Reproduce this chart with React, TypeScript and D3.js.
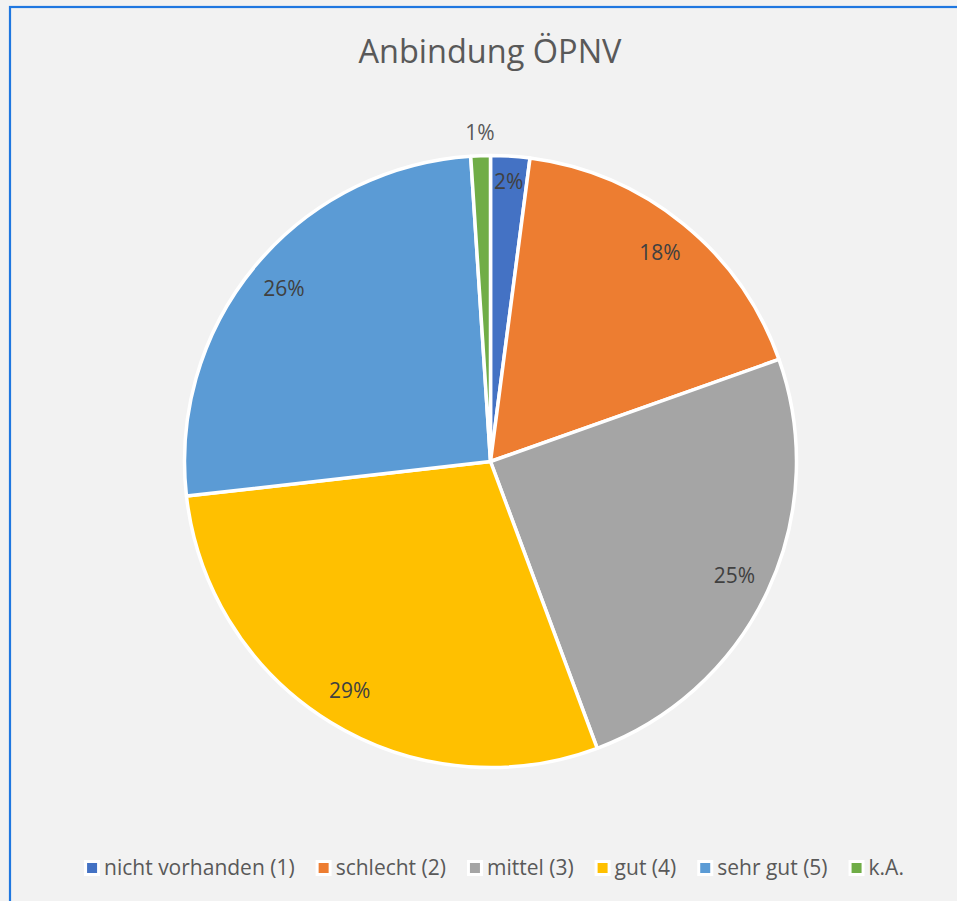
import { useRef, useEffect } from "react";
import * as d3 from "d3";

const title = "Anbindung ÖPNV";
const categories = ["nicht vorhanden (1)", "schlecht (2)", "mittel (3)", "gut (4)", "sehr gut (5)", "k.A."];
const counts = [2, 17, 24, 28, 25, 1];
const colors = ["#4472C4", "#ED7D31", "#A5A5A5", "#FFC000", "#5B9BD5", "#70AD47"];

const FONT = "'Open Sans', 'Noto Sans', sans-serif";
const W = 957;
const H = 901;

export default function App() {
  const svgRef = useRef<SVGSVGElement>(null);

  useEffect(() => {
    if (!svgRef.current) return;
    const svg = d3.select(svgRef.current);
    svg.selectAll("*").remove();

    svg.append("rect").attr("width", W).attr("height", H).attr("fill", "#f2f2f2");
    // chart frame (blue selection border, runs off right/bottom)
    svg.append("rect")
      .attr("x", 10).attr("y", 7)
      .attr("width", 980).attr("height", 920)
      .attr("fill", "none")
      .attr("stroke", "#1f77e0")
      .attr("stroke-width", 2.2);

    const cx = 490.5;
    const cy = 461.5;
    const R = 306;

    svg.append("text")
      .attr("x", 490)
      .attr("y", 63)
      .attr("text-anchor", "middle")
      .attr("font-family", FONT)
      .attr("font-size", "32.5px")
      .attr("fill", "#595959")
      .text(title);

    const total = d3.sum(counts);
    const pie = d3.pie<number>().sort(null).value((d) => d);
    const arcs = pie(counts);
    const arc = d3.arc<d3.PieArcDatum<number>>().innerRadius(0).outerRadius(R);

    const g = svg.append("g").attr("transform", `translate(${cx},${cy})`);
    g.selectAll("path.slice")
      .data(arcs)
      .join("path")
      .attr("class", "slice")
      .attr("d", arc)
      .attr("fill", (_, i) => colors[i])
      .attr("stroke", "#ffffff")
      .attr("stroke-width", 3.5)
      .attr("stroke-linejoin", "round");

    // data labels, best-fit style
    arcs.forEach((a) => {
      const share = a.data / total;
      const r = share < 0.015 ? R + 23 : share < 0.03 ? R - 25 : R * 0.88;
      const mid = (a.startAngle + a.endAngle) / 2;
      const lx = Math.sin(mid) * r;
      const ly = -Math.cos(mid) * r;
      g.append("text")
        .attr("x", lx)
        .attr("y", ly + 7.5)
        .attr("text-anchor", "middle")
        .attr("font-family", FONT)
        .attr("font-size", "21px")
        .attr("fill", share < 0.015 ? "#595959" : "#404040")
        .text(`${Math.round(share * 100)}%`);
    });

    // legend
    const legend = svg.append("g");
    const items = categories.map((c, i) => {
      const item = legend.append("g");
      item.append("rect")
        .attr("x", 0).attr("y", -8).attr("width", 16).attr("height", 16)
        .attr("fill", "#ffffff");
      item.append("rect")
        .attr("x", 3).attr("y", -5).attr("width", 10).attr("height", 10)
        .attr("fill", colors[i]);
      const t = item.append("text")
        .attr("x", 20)
        .attr("y", 7)
        .attr("font-family", FONT)
        .attr("font-size", "21px")
        .attr("fill", "#595959")
        .text(c);
      const w = (t.node() as SVGTextElement).getComputedTextLength();
      return { item, width: 20 + w };
    });
    const gap = 21;
    const totalW = d3.sum(items, (d) => d.width) + gap * (items.length - 1);
    let x = 494 - totalW / 2;
    items.forEach((d) => {
      d.item.attr("transform", `translate(${x},868)`);
      x += d.width + gap;
    });
  }, []);

  return (
    <div style={{ position: "fixed", left: 0, top: 0, width: W, height: H }}>
      <svg ref={svgRef} width={W} height={H} style={{ display: "block" }} />
    </div>
  );
}
